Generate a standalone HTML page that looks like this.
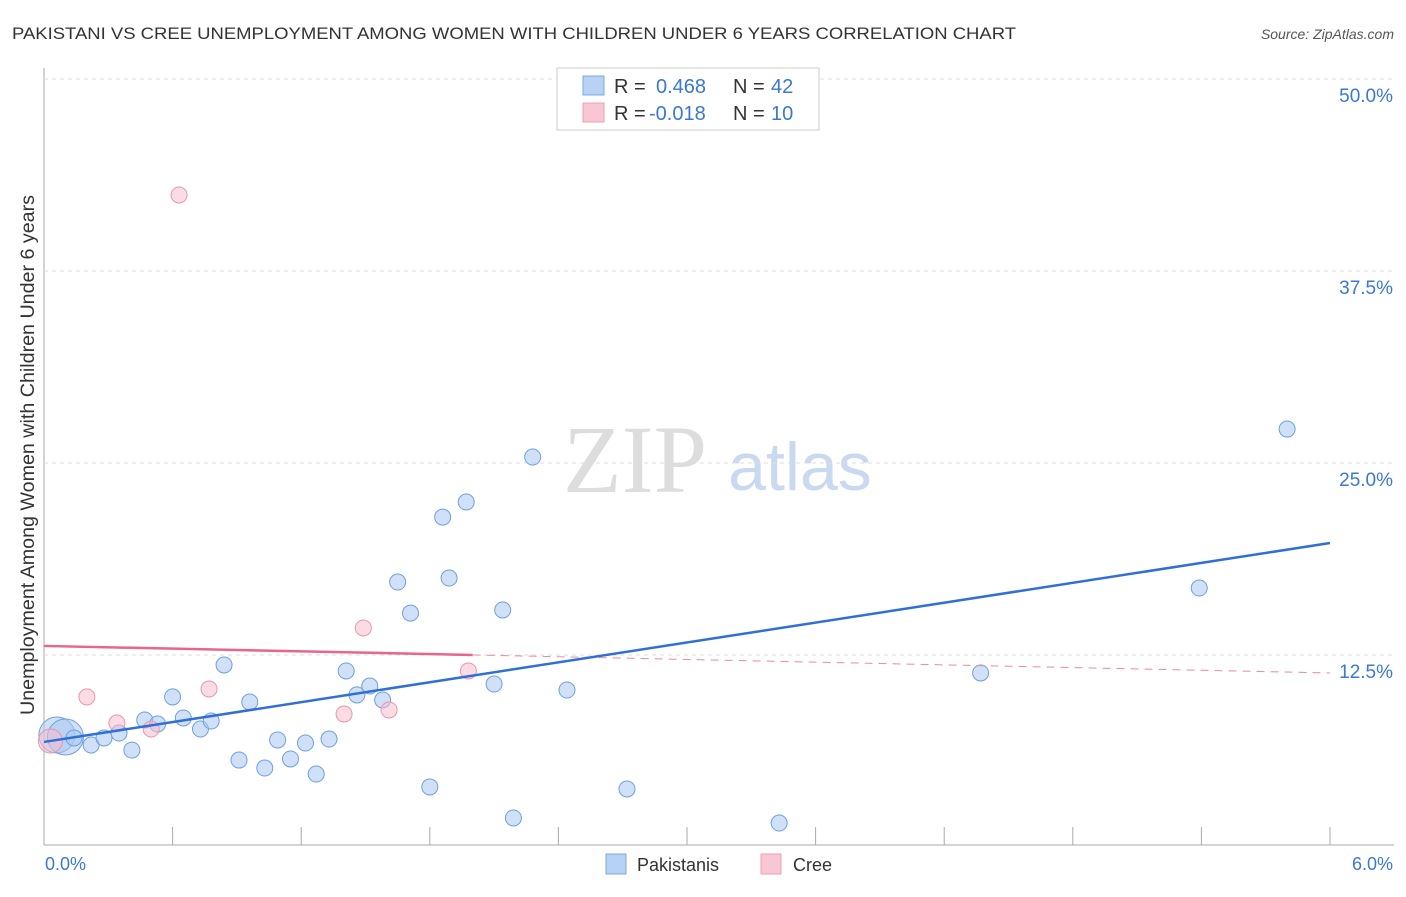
<!DOCTYPE html>
<html><head><meta charset="utf-8"><style>
body{margin:0;background:#fff;font-family:"Liberation Sans",sans-serif;}
</style></head><body>
<svg id="c" width="1406" height="892" xmlns="http://www.w3.org/2000/svg">
<text x="12" y="39" font-size="17" fill="#333" textLength="1004" lengthAdjust="spacingAndGlyphs">PAKISTANI VS CREE UNEMPLOYMENT AMONG WOMEN WITH CHILDREN UNDER 6 YEARS CORRELATION CHART</text>
<text x="1394" y="39" font-size="14" fill="#555" font-style="italic" text-anchor="end">Source: ZipAtlas.com</text>
<text x="635" y="492" font-size="96" fill="#ddd" font-family="Liberation Serif,serif" text-anchor="middle">ZIP</text>
<text x="800" y="490" font-size="68" fill="#c9d9f0" text-anchor="middle">atlas</text>
<text transform="translate(34,455) rotate(-90)" font-size="19" fill="#333" text-anchor="middle" textLength="520" lengthAdjust="spacingAndGlyphs">Unemployment Among Women with Children Under 6 years</text>
<g id="grid"></g><g id="marks"></g>
<g>
<rect x="557" y="68" width="262" height="62" fill="#fff" stroke="#ccc"/>
<rect x="583" y="76" width="21" height="19" fill="#b8d2f5" stroke="#7ea8e0"/>
<rect x="583" y="103" width="21" height="19" fill="#f9c6d3" stroke="#eaa0b5"/>
<text x="614" y="93" font-size="20" fill="#333">R =</text>
<text x="656" y="93" font-size="20" fill="#3a78d4">0.468</text>
<text x="733" y="93" font-size="20" fill="#333">N =</text>
<text x="771" y="93" font-size="20" fill="#3a78d4">42</text>
<text x="614" y="120" font-size="20" fill="#333">R =</text>
<text x="649" y="120" font-size="20" fill="#3a78d4">-0.018</text>
<text x="733" y="120" font-size="20" fill="#333">N =</text>
<text x="771" y="120" font-size="20" fill="#3a78d4">10</text>
</g>
<g>
<rect x="606" y="854" width="20" height="20" fill="#b8d2f5" stroke="#7ea8e0"/>
<text x="637" y="871" font-size="18" fill="#333">Pakistanis</text>
<rect x="761" y="854" width="20" height="20" fill="#f9c6d3" stroke="#eaa0b5"/>
<text x="793" y="871" font-size="18" fill="#333">Cree</text>
</g>
<text x="45" y="870" font-size="18" fill="#3a78d4">0.0%</text>
<text x="1393" y="870" font-size="18" fill="#3a78d4" text-anchor="end">6.0%</text>
</svg>
<script>
const blueX=[0.06,0.10,0.14,0.22,0.28,0.35,0.41,0.47,0.53,0.60,0.65,0.73,0.78,0.84,0.91,0.96,1.03,1.09,1.15,1.22,1.27,1.33,1.41,1.46,1.52,1.58,1.65,1.71,1.80,1.86,1.89,1.97,2.10,2.14,2.19,2.28,2.44,2.72,3.43,4.37,5.39,5.80];
const blueY=[7.29,7.16,7.10,6.64,7.10,7.42,6.31,8.27,8.01,9.77,8.40,7.68,8.20,11.85,5.66,9.44,5.14,6.97,5.73,6.77,4.75,7.03,11.46,9.90,10.48,9.57,17.25,15.23,3.91,21.48,17.51,22.46,10.61,15.43,1.89,25.39,10.22,3.78,1.56,11.33,16.86,27.21];
const pinkX=[0.03,0.20,0.34,0.50,0.63,0.77,1.40,1.49,1.61,1.98];
const pinkY=[6.90,9.77,8.07,7.68,42.45,10.29,8.66,14.26,8.92,11.46];
const yTicks=[12.5,25,37.5,50];
const yTickLabels=["12.5%","25.0%","37.5%","50.0%"];
const xTicks=[0,0.6,1.2,1.8,2.4,3.0,3.6,4.2,4.8,5.4,6.0];
const blueLine=[6.84,19.79];
const pinkLine=[13.09,11.33];
const pinkSolidEnd=2.0;
const X=v=>44+v/6*1286, Y=v=>847-v/12.5*192;
const NS="http://www.w3.org/2000/svg";
const grid=document.getElementById('grid'),marks=document.getElementById('marks');
function mk(tag,at,p){const e=document.createElementNS(NS,tag);for(const k in at)e.setAttribute(k,at[k]);p.appendChild(e);return e;}
let ax=mk('line',{x1:44,y1:68,x2:44,y2:845,stroke:'#aaa'},grid);


let bx=mk('line',{x1:44,y1:845,x2:1394,y2:845,stroke:'#aaa'},grid);


yTicks.forEach((t,i)=>{
 let g=mk('line',{x1:44,x2:1394,y1:Y(t),y2:Y(t),stroke:'#ddd','stroke-dasharray':'4,4'},grid);
 
 
 let tx=mk('text',{x:1393,y:Y(t)+23,'font-size':19,fill:'#3a78d4','text-anchor':'end'},grid);
 tx.textContent=yTickLabels[i];
 
 
});
xTicks.forEach(t=>{
 let l=mk('line',{x1:X(t),x2:X(t),y1:827,y2:845,stroke:'#aaa'},grid);
 
 
});
blueX.forEach((x,i)=>{
 const r=i<2?18:8;
 let c=mk('circle',{cx:X(x),cy:Y(blueY[i]),r:r,fill:'rgba(170,200,240,0.55)',stroke:'#6f9fe0','stroke-width':1},marks);
 
 
});
pinkX.forEach((x,i)=>{
 const r=i==0?12:8;
 let c=mk('circle',{cx:X(x),cy:Y(pinkY[i]),r:r,fill:'rgba(248,190,205,0.55)',stroke:'#e896ad','stroke-width':1},marks);
 
 
});
const pAt=x=>pinkLine[0]+(pinkLine[1]-pinkLine[0])*x/6;
let pd=mk('line',{x1:X(pinkSolidEnd),y1:Y(pAt(pinkSolidEnd)),x2:X(6),y2:Y(pinkLine[1]),stroke:'#e88aa5','stroke-width':1,'stroke-dasharray':'8,6'},marks);


let ps=mk('line',{x1:X(0),y1:Y(pinkLine[0]),x2:X(pinkSolidEnd),y2:Y(pAt(pinkSolidEnd)),stroke:'#e8658d','stroke-width':2.5},marks);


let bl=mk('line',{x1:X(0),y1:Y(blueLine[0]),x2:X(6),y2:Y(blueLine[1]),stroke:'#2f6fd6','stroke-width':2.5},marks);


</script>
</body></html>
